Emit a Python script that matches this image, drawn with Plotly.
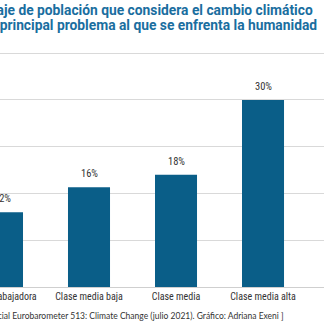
import plotly.graph_objects as go

categories = ["Clase trabajadora", "Clase media baja", "Clase media", "Clase media alta"]
values = [12, 16, 18, 30]
labels = ["12%", "16%", "18%", "30%"]

title_line1 = "Porcentaje de población que considera el cambio climático"
title_line2 = "como el principal problema al que se enfrenta la humanidad"
source = "[ Fuente: Special Eurobarometer 513: Climate Change (julio 2021). Gráfico: Adriana Exeni ]"

BAR = "#0a5e88"
TITLE = "#1a6e9f"
COND = "Liberation Sans Narrow, Roboto Condensed, Roboto"
W, H = 324, 324
T, B = 50, 37

fig = go.Figure(go.Bar(
    x=categories, y=values, marker=dict(color=BAR, line=dict(width=0)),
    hoverinfo="skip",
))

for c, v, t in zip(categories, values, labels):
    fig.add_annotation(x=c, y=v, xref="x", yref="y", text=t, showarrow=False,
                       yanchor="bottom", yshift=5,
                       font=dict(family=COND, size=10.5, color="#333333"))


def paper_y(py):
    return (H - B - py) / (H - T - B)


fig.add_annotation(xref="paper", yref="paper", x=315 / W, y=paper_y(10), yanchor="middle",
                   xanchor="right", text="<b>" + title_line1 + "</b>", showarrow=False,
                   font=dict(family="Roboto", size=13.8, color=TITLE))
fig.add_annotation(xref="paper", yref="paper", x=319 / W, y=paper_y(25), yanchor="middle",
                   xanchor="right", text="<b>" + title_line2 + "</b>", showarrow=False,
                   font=dict(family="Roboto", size=13.8, color=TITLE))
fig.add_annotation(xref="paper", yref="paper", x=286 / W, y=paper_y(316), yanchor="middle",
                   xanchor="right", text=source, showarrow=False,
                   font=dict(family="Lato", size=8.5, color="#333333"))

fig.update_layout(
    width=W, height=H,
    margin=dict(l=0, r=0, t=T, b=B, pad=0, autoexpand=False),
    paper_bgcolor="white", plot_bgcolor="white",
    bargap=0.517, showlegend=False,
    xaxis=dict(range=[-0.023, 3.701], showgrid=False, showline=False, ticks="",
               automargin=False, ticklabelstandoff=2,
               tickfont=dict(family=COND, size=10, color="#333333"), fixedrange=True),
    yaxis=dict(range=[0, 38], dtick=7.5, tick0=0, showticklabels=False, showgrid=True,
               automargin=False,
               gridcolor="#d9d9d9", gridwidth=1, zeroline=True, zerolinecolor="#cfcfcf",
               zerolinewidth=1, fixedrange=True),
)

fig.write_html("out.html")
